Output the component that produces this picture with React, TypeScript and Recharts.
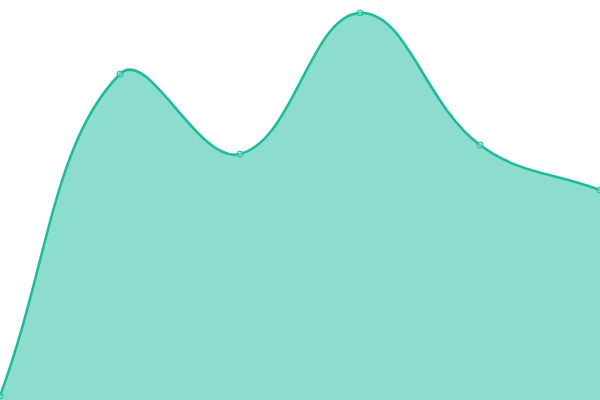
import React from 'react';
import { AreaChart, Area, XAxis, YAxis } from 'recharts';

const categories = ['A', 'B', 'C', 'D', 'E', 'F'];
const values = [4, 326, 246, 387, 255, 210];

const data = categories.map((name, i) => ({ name, value: values[i] }));

const TENSION = 0.4;

// Cubic spline with tension, as used by many canvas chart libraries
function tensionCurve(context: any) {
  const self: any = {
    _line: undefined as any,
    _x: [] as number[],
    _y: [] as number[],
    areaStart() { self._line = 0; },
    areaEnd() { self._line = NaN; },
    lineStart() { self._x = []; self._y = []; },
    point(x: number, y: number) { self._x.push(+x); self._y.push(+y); },
    lineEnd() {
      const xs = self._x, ys = self._y, n = xs.length;
      if (n) {
        if (self._line) context.lineTo(xs[0], ys[0]); else context.moveTo(xs[0], ys[0]);
        if (n === 2) {
          context.lineTo(xs[1], ys[1]);
        } else if (n > 2) {
          const cpPrev: number[][] = [];
          const cpNext: number[][] = [];
          for (let i = 0; i < n; i++) {
            const pi = i === 0 ? i : i - 1;
            const ni = i === n - 1 ? i : i + 1;
            const d01 = Math.hypot(xs[i] - xs[pi], ys[i] - ys[pi]);
            const d12 = Math.hypot(xs[ni] - xs[i], ys[ni] - ys[i]);
            let s01 = d01 / (d01 + d12);
            let s12 = d12 / (d01 + d12);
            if (!isFinite(s01)) s01 = 0;
            if (!isFinite(s12)) s12 = 0;
            const fa = TENSION * s01;
            const fb = TENSION * s12;
            cpPrev.push([xs[i] - fa * (xs[ni] - xs[pi]), ys[i] - fa * (ys[ni] - ys[pi])]);
            cpNext.push([xs[i] + fb * (xs[ni] - xs[pi]), ys[i] + fb * (ys[ni] - ys[pi])]);
          }
          for (let i = 1; i < n; i++) {
            context.bezierCurveTo(
              cpNext[i - 1][0], Math.max(0, Math.min(400, cpNext[i - 1][1])),
              cpPrev[i][0], Math.max(0, Math.min(400, cpPrev[i][1])),
              xs[i], ys[i]
            );
          }
        }
      }
      if (self._line || (self._line !== 0 && n === 1)) context.closePath();
      self._line = 1 - self._line;
    },
  };
  return self;
}

export default function App() {
  return (
    <div style={{ position: 'fixed', left: 0, top: 0, width: 600, height: 400, background: '#fff' }}>
      <AreaChart width={600} height={400} data={data} margin={{ top: 0, right: 0, bottom: 0, left: 0 }}>
        <XAxis dataKey="name" hide />
        <YAxis hide domain={[0, 400]} />
        <Area
          type={tensionCurve as any}
          dataKey="value"
          stroke="#1abc9c"
          strokeWidth={2.5}
          fill="#1abc9c"
          fillOpacity={0.5}
          dot={{ r: 3, fill: '#8ce0cf', stroke: '#1abc9c', strokeWidth: 1 }}
          activeDot={false}
          isAnimationActive={false}
        />
      </AreaChart>
    </div>
  );
}
